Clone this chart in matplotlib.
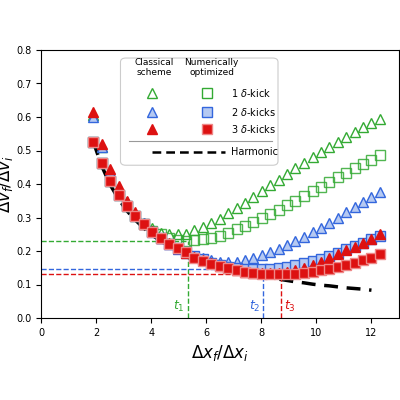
import numpy as np
import matplotlib
matplotlib.use("Agg")
import matplotlib.pyplot as plt
from matplotlib.patches import FancyBboxPatch
from matplotlib.lines import Line2D

x = [1.90,2.21,2.51,2.82,3.12,3.43,3.74,4.04,4.35,4.65,4.96,5.27,5.57,5.88,6.18,6.49,6.80,7.10,7.41,7.71,
     8.02,8.33,8.63,8.94,9.24,9.55,9.86,10.16,10.47,10.77,11.08,11.39,11.69,12.00,12.30]
harm = [0.526,0.453,0.398,0.355,0.320,0.292,0.268,0.247,0.230,0.215,0.202,0.190,0.180,0.170,0.162,0.154,0.147,0.141,
        0.135,0.130,0.125,0.120,0.116,0.112,0.108,0.105,0.101,0.098,0.096,0.093,0.090,0.088,0.086,0.083,0.081]
cl1 = [0.605,0.51,0.43,0.385,0.345,0.31,0.285,0.27,0.255,0.25,0.25,0.252,0.262,0.272,0.284,0.297,0.313,0.328,
       0.344,0.36,0.378,0.397,0.412,0.43,0.447,0.464,0.48,0.495,0.51,0.525,0.54,0.555,0.57,0.583,0.595]
op1 = [0.525,0.462,0.41,0.368,0.335,0.305,0.28,0.26,0.25,0.24,0.232,0.23,0.232,0.235,0.24,0.245,0.255,0.265,
       0.275,0.287,0.30,0.31,0.323,0.337,0.35,0.363,0.378,0.39,0.405,0.42,0.433,0.447,0.46,0.473,0.487]
cl2 = [0.60,0.51,0.435,0.385,0.345,0.31,0.283,0.26,0.24,0.222,0.207,0.195,0.185,0.178,0.172,0.168,0.167,0.168,
       0.172,0.178,0.187,0.197,0.207,0.218,0.23,0.243,0.257,0.27,0.285,0.30,0.315,0.33,0.345,0.36,0.375]
op2 = [0.525,0.462,0.41,0.368,0.335,0.305,0.28,0.258,0.24,0.222,0.21,0.197,0.185,0.175,0.165,0.158,0.152,0.148,
       0.146,0.145,0.145,0.146,0.148,0.152,0.157,0.163,0.17,0.177,0.185,0.195,0.205,0.215,0.225,0.235,0.245]
cl3 = [0.615,0.52,0.445,0.395,0.35,0.315,0.28,0.26,0.24,0.225,0.21,0.195,0.182,0.172,0.163,0.155,0.148,0.143,
       0.138,0.135,0.133,0.133,0.135,0.138,0.143,0.15,0.158,0.167,0.178,0.19,0.202,0.213,0.225,0.237,0.25]
op3 = [0.525,0.462,0.41,0.368,0.335,0.305,0.28,0.258,0.24,0.222,0.21,0.197,0.18,0.17,0.162,0.155,0.148,0.143,
       0.138,0.135,0.132,0.13,0.13,0.13,0.132,0.135,0.138,0.142,0.147,0.152,0.158,0.165,0.172,0.18,0.19]
t_x = [5.35, 8.07, 8.70]
t_y = [0.23, 0.145, 0.13]
t_lab = [r"$t_1$", r"$t_2$", r"$t_3$"]

G, B, R = "#33aa33", "#3366dd", "#dd1111"
LB = "#b5c9f2"

fig = plt.figure(figsize=(4, 4), dpi=100)
ax = fig.add_axes([0.1025, 0.205, 0.895, 0.67])
ms = 6.5
ax.plot(x[:-1], harm[:-1], ls=(0, (4, 2.5)), color="black", lw=2.5, zorder=1)
ax.plot(x, cl1, "^", mfc="none", mec=G, ms=ms, mew=1, zorder=3)
ax.plot(x, op1, "s", mfc="none", mec=G, ms=ms, mew=1, zorder=3, alpha=0.85)
ax.plot(x, cl2, "^", mfc=LB, mec=B, ms=ms, mew=1, zorder=3)
ax.plot(x, op2, "s", mfc=LB, mec=B, ms=ms, mew=1, zorder=3)
ax.plot(x, cl3, "^", mfc=R, mec=R, ms=ms, mew=1, zorder=4)
ax.plot(x, op3, "s", mfc=R, mec="#ee8888", ms=ms, mew=1, zorder=4)

for tx, ty, tl, c in zip(t_x, t_y, t_lab, [G, B, R]):
    ax.plot([0, tx], [ty, ty], ls="--", color=c, lw=1, zorder=2)
    ax.plot([tx, tx], [0, ty], ls="--", color=c, lw=1, zorder=2)
ax.text(t_x[0] - 0.35, 0.025, t_lab[0], color=G, fontsize=9, ha="center")
ax.text(t_x[1] - 0.3, 0.025, t_lab[1], color=B, fontsize=9, ha="center")
ax.text(t_x[2] + 0.35, 0.025, t_lab[2], color=R, fontsize=9, ha="center")

ax.set_xlim(0, 13)
ax.set_ylim(0, 0.8)
ax.set_xticks(range(0, 13, 2))
ax.set_yticks(np.arange(0, 0.81, 0.1))
ax.tick_params(labelsize=7, direction="out")
ax.set_xlabel(r"$\Delta x_f/\Delta x_i$", fontsize=12)
ax.set_ylabel(r"$\Delta v_f/\Delta v_i$", fontsize=12)
ax.yaxis.set_label_coords(-0.072, 0.5)

T = ax.transAxes
ax.add_patch(FancyBboxPatch((0.222, 0.57), 0.44, 0.40, boxstyle="round,pad=0,rounding_size=0.015",
                            transform=T, fc="white", ec="#cccccc", lw=0.8, zorder=10))
ax.text(0.317, 0.935, "Classical\nscheme", transform=T, ha="center", va="center", fontsize=6.5, zorder=11, linespacing=1.1)
ax.text(0.477, 0.935, "Numerically\noptimized", transform=T, ha="center", va="center", fontsize=6.5, zorder=11, linespacing=1.1)
rows = [0.838, 0.77, 0.706]
labs = [r"1 $\delta$-kick", r"2 $\delta$-kicks", r"3 $\delta$-kicks"]
sty = [("none", G, "none", G), (LB, B, LB, B), (R, R, R, "#ee8888")]
for yy, lb, (tf, te, sf, se) in zip(rows, labs, sty):
    ax.plot([0.31], [yy], "^", mfc=tf, mec=te, ms=7, transform=T, zorder=11, clip_on=False)
    ax.plot([0.465], [yy], "s", mfc=sf, mec=se, ms=7, transform=T, zorder=11, clip_on=False)
    ax.text(0.53, yy, lb, transform=T, va="center", fontsize=7, zorder=11)
ax.add_line(Line2D([0.245, 0.645], [0.66, 0.66], transform=T, color="#999999", lw=0.8, zorder=11))
ax.add_line(Line2D([0.31, 0.515], [0.62, 0.62], transform=T, color="black", lw=1.8, ls=(0, (3.5, 2)), zorder=11))
ax.text(0.53, 0.62, "Harmonic", transform=T, va="center", fontsize=7, zorder=11)

fig.savefig("out.png", dpi=100)
